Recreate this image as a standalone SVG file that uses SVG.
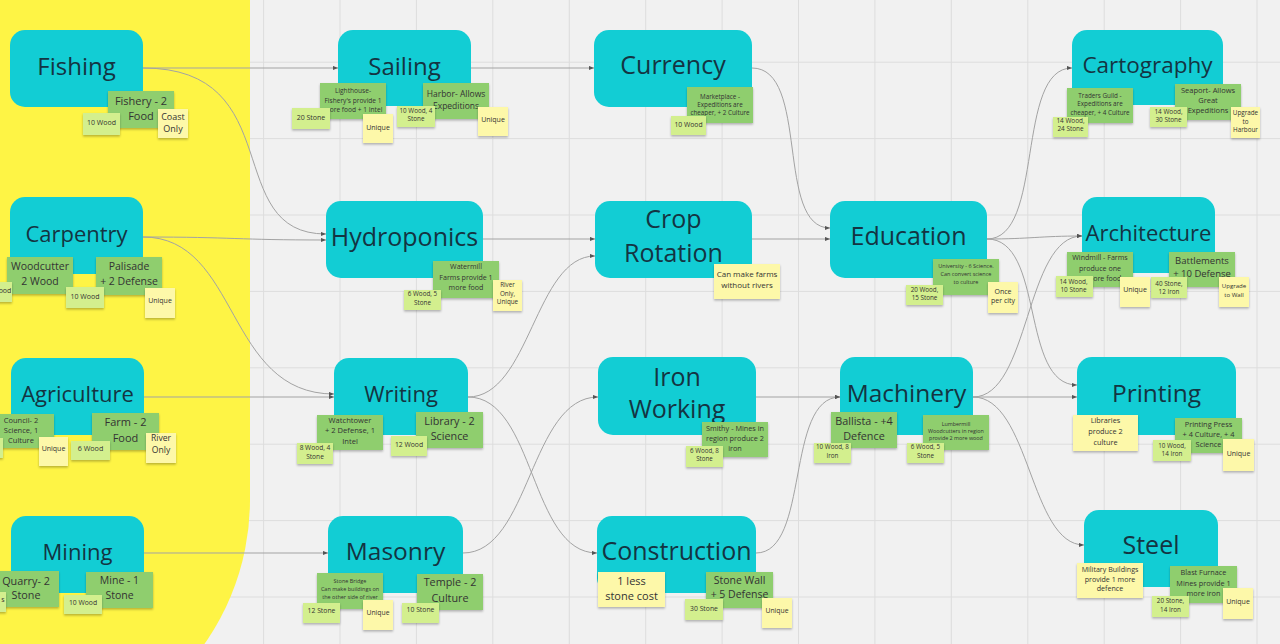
<svg xmlns="http://www.w3.org/2000/svg" width="1280" height="644" viewBox="0 0 1280 644">
<defs>
<style>
.grid line{stroke:#dddddd;stroke-width:1}
.n{fill:#12cdd4}
.nt{font-family:"Open Sans","Noto Sans",sans-serif;fill:#143442;text-anchor:middle;dominant-baseline:central;transform:translate(0px,-2.5px)}
.g{fill:#8fce6e;filter:url(#sh)}
.lg{fill:#d3ef8e;filter:url(#sh)}
.y{fill:#fdf8a9;filter:url(#sh)}
.t{font-family:"Open Sans","Noto Sans",sans-serif;fill:#333333;text-anchor:middle;dominant-baseline:central;transform:translate(0px,-1.5px)}
.c path{fill:none;stroke:#a3a3a3;stroke-width:1;marker-end:url(#ar)}
</style>
<filter id="sh" x="-20%" y="-20%" width="140%" height="160%"><feDropShadow dx="0" dy="1.5" stdDeviation="1" flood-color="#000000" flood-opacity="0.28"/></filter>
<marker id="ar" viewBox="0 0 6 6" refX="6" refY="3" markerWidth="5" markerHeight="5" orient="auto" markerUnits="userSpaceOnUse"><path d="M0,0.5 L6,3 L0,5.5 Z" fill="#555555"/></marker>
</defs>
<rect x="0" y="0" width="1280" height="644" fill="#f1f1f1"/>
<g class="grid">
<line x1="263.6" y1="0" x2="263.6" y2="644"/><line x1="340" y1="0" x2="340" y2="644"/><line x1="416.4" y1="0" x2="416.4" y2="644"/><line x1="492.8" y1="0" x2="492.8" y2="644"/><line x1="569.3" y1="0" x2="569.3" y2="644"/><line x1="645.7" y1="0" x2="645.7" y2="644"/><line x1="722.1" y1="0" x2="722.1" y2="644"/><line x1="798.5" y1="0" x2="798.5" y2="644"/><line x1="874.9" y1="0" x2="874.9" y2="644"/><line x1="951.3" y1="0" x2="951.3" y2="644"/><line x1="1027.8" y1="0" x2="1027.8" y2="644"/><line x1="1104.2" y1="0" x2="1104.2" y2="644"/><line x1="1180.6" y1="0" x2="1180.6" y2="644"/><line x1="1257" y1="0" x2="1257" y2="644"/>
<line x1="0" y1="62.2" x2="1280" y2="62.2"/><line x1="0" y1="138.6" x2="1280" y2="138.6"/><line x1="0" y1="215" x2="1280" y2="215"/><line x1="0" y1="291.4" x2="1280" y2="291.4"/><line x1="0" y1="367.8" x2="1280" y2="367.8"/><line x1="0" y1="444.2" x2="1280" y2="444.2"/><line x1="0" y1="520.6" x2="1280" y2="520.6"/><line x1="0" y1="597" x2="1280" y2="597"/>
</g>
<path d="M0,0 H250 V500 A250,250 0 0 1 0,750 Z" fill="#fef445"/>
<g id="connectors" class="c">
<path d="M143,68 H338"/>
<path d="M143,68 C290,68 220,234 326,234"/>
<path d="M143,237 C235,237 235,240 326,240"/>
<path d="M143,237 C240,237 225,394 334,394"/>
<path d="M144,397 H334"/>
<path d="M144,553 H328"/>
<path d="M471,68 H594"/>
<path d="M483,239 H595"/>
<path d="M468,397 C530,397 535,256 595,256"/>
<path d="M468,397 C535,397 530,553 597,553"/>
<path d="M463,553 C530,553 530,397 598,397"/>
<path d="M752,68 C810,68 775,228 830,228"/>
<path d="M752,239 H830"/>
<path d="M756,397 H840"/>
<path d="M756,553 C810,553 785,397 840,397"/>
<path d="M987,239 C1045,239 1015,68 1072,68"/>
<path d="M987,239 C1030,239 1040,236 1082,236"/>
<path d="M987,239 C1045,239 1020,385 1077,385"/>
<path d="M973,397 C1030,397 1025,236 1082,236"/>
<path d="M973,397 H1077"/>
<path d="M973,397 C1030,397 1030,545 1084,545"/>
</g>

<g id="fishing">
<rect class="n" x="10" y="30" width="133" height="77" rx="15"/>
<text class="nt" x="76.5" y="68" font-size="24">Fishing</text>
<rect class="g" x="108" y="91" width="66" height="37"/>
<text class="t" font-size="11"><tspan x="141" y="101.5">Fishery - 2</tspan><tspan x="141" y="116">Food</tspan></text>
<rect class="lg" x="83" y="113" width="37" height="22"/>
<text class="t" x="101.5" y="124" font-size="7">10 Wood</text>
<rect class="y" x="158" y="109" width="30" height="29"/>
<text class="t" font-size="9"><tspan x="173" y="117.5">Coast</tspan><tspan x="173" y="129.5">Only</tspan></text>
</g>

<g id="sailing">
<rect class="n" x="338" y="30" width="133" height="76" rx="15"/>
<text class="nt" x="404.5" y="68" font-size="24">Sailing</text>
<rect class="g" x="320" y="83" width="66" height="36"/>
<text class="t" font-size="6.6"><tspan x="353" y="91.5">Lighthouse-</tspan><tspan x="353" y="101">Fishery's provide 1</tspan><tspan x="353" y="110.5">more food + 1 Intel</tspan></text>
<rect class="g" x="423" y="83" width="66" height="36"/>
<text class="t" font-size="8.5"><tspan x="456" y="94">Harbor- Allows</tspan><tspan x="456" y="106">Expeditions</tspan></text>
<rect class="lg" x="292" y="108" width="38" height="21"/>
<text class="t" x="311" y="118.5" font-size="7">20 Stone</text>
<rect class="lg" x="397" y="106" width="38" height="21"/>
<text class="t" font-size="6.3"><tspan x="416" y="111.5">10 Wood, 4</tspan><tspan x="416" y="119.5">Stone</tspan></text>
<rect class="y" x="363" y="114" width="30" height="29"/>
<text class="t" x="378" y="128.5" font-size="7">Unique</text>
<rect class="y" x="478" y="107" width="30" height="29"/>
<text class="t" x="493" y="120.5" font-size="7">Unique</text>
</g>

<g id="currency">
<rect class="n" x="594" y="30" width="158" height="77" rx="15"/>
<text class="nt" x="673" y="66.5" font-size="25">Currency</text>
<rect class="g" x="687" y="87" width="66" height="36"/>
<text class="t" font-size="6.3"><tspan x="720" y="97">Marketplace -</tspan><tspan x="720" y="105">Expeditions are</tspan><tspan x="720" y="113">cheaper, + 2 Culture</tspan></text>
<rect class="lg" x="671" y="116" width="35" height="19"/>
<text class="t" x="688.5" y="125.5" font-size="6.8">10 Wood</text>
</g>

<g id="cartography">
<rect class="n" x="1072" y="30" width="151" height="75" rx="15"/>
<text class="nt" x="1147.5" y="66.5" font-size="22.5">Cartography</text>
<rect class="g" x="1067" y="88" width="66" height="35"/>
<text class="t" font-size="6.3"><tspan x="1100" y="96">Traders Guild -</tspan><tspan x="1100" y="104.5">Expeditions are</tspan><tspan x="1100" y="113">cheaper, + 4 Culture</tspan></text>
<rect class="g" x="1175" y="84" width="66" height="36"/>
<text class="t" font-size="7.5"><tspan x="1208" y="91">Seaport- Allows</tspan><tspan x="1208" y="101">Great</tspan><tspan x="1208" y="111">Expeditions</tspan></text>
<rect class="lg" x="1053" y="117" width="35" height="20"/>
<text class="t" font-size="6.4"><tspan x="1070.5" y="121.5">14 Wood,</tspan><tspan x="1070.5" y="129.5">24 Stone</tspan></text>
<rect class="lg" x="1150" y="107" width="37" height="20"/>
<text class="t" font-size="6.4"><tspan x="1168.5" y="112">14 Wood,</tspan><tspan x="1168.5" y="120.5">30 Stone</tspan></text>
<rect class="y" x="1231" y="107" width="29" height="31"/>
<text class="t" font-size="6.3"><tspan x="1245.5" y="113">Upgrade</tspan><tspan x="1245.5" y="122">to</tspan><tspan x="1245.5" y="130.5">Harbour</tspan></text>
</g>

<g id="carpentry">
<rect class="n" x="10" y="197" width="133" height="77" rx="15"/>
<text class="nt" x="76.5" y="235" font-size="22">Carpentry</text>
<rect class="g" x="7" y="257" width="66" height="37"/>
<text class="t" font-size="10.5"><tspan x="40" y="267">Woodcutter</tspan><tspan x="40" y="282">2 Wood</tspan></text>
<rect class="g" x="96" y="257" width="66" height="38"/>
<text class="t" font-size="10.5"><tspan x="129" y="267">Palisade</tspan><tspan x="129" y="282">+ 2 Defense</tspan></text>
<rect class="lg" x="-26" y="282" width="38" height="20"/>
<text class="t" x="5" y="291.5" font-size="7">ood</text>
<rect class="lg" x="66" y="287" width="38" height="21"/>
<text class="t" x="85" y="297.5" font-size="7">10 Wood</text>
<rect class="y" x="145" y="288" width="30" height="30"/>
<text class="t" x="160" y="302" font-size="7">Unique</text>
</g>

<g id="hydroponics">
<rect class="n" x="326" y="201" width="157" height="77" rx="15"/>
<text class="nt" x="404.5" y="238" font-size="25">Hydroponics</text>
<rect class="g" x="433" y="261" width="66" height="37"/>
<text class="t" font-size="7.1"><tspan x="466" y="267.5">Watermill</tspan><tspan x="466" y="278">Farms provide 1</tspan><tspan x="466" y="288.5">more food</tspan></text>
<rect class="lg" x="404" y="290" width="37" height="20"/>
<text class="t" font-size="6.3"><tspan x="422.5" y="294.5">6 Wood, 5</tspan><tspan x="422.5" y="303">Stone</tspan></text>
<rect class="y" x="493" y="280" width="29" height="31"/>
<text class="t" font-size="6.3"><tspan x="507.5" y="285.5">River</tspan><tspan x="507.5" y="294">Only,</tspan><tspan x="507.5" y="302.5">Unique</tspan></text>
</g>

<g id="crop-rotation">
<rect class="n" x="595" y="201" width="157" height="77" rx="15"/>
<text class="nt" font-size="25"><tspan x="673.5" y="220.5">Crop</tspan><tspan x="673.5" y="254.5">Rotation</tspan></text>
<rect class="y" x="714" y="264" width="66" height="35"/>
<text class="t" font-size="8"><tspan x="747" y="274">Can make farms</tspan><tspan x="747" y="285.5">without rivers</tspan></text>
</g>

<g id="education">
<rect class="n" x="830" y="201" width="157" height="77" rx="15"/>
<text class="nt" x="908.5" y="237.5" font-size="25">Education</text>
<rect class="g" x="933" y="259" width="66" height="36"/>
<text class="t" font-size="5.5"><tspan x="966" y="267">University - 6 Science.</tspan><tspan x="966" y="275.5">Can convert science</tspan><tspan x="966" y="283.5">to culture</tspan></text>
<rect class="lg" x="906" y="285" width="37" height="20"/>
<text class="t" font-size="6.3"><tspan x="924.5" y="290.5">20 Wood,</tspan><tspan x="924.5" y="298.5">15 Stone</tspan></text>
<rect class="y" x="988" y="282" width="30" height="31"/>
<text class="t" font-size="7"><tspan x="1003" y="292">Once</tspan><tspan x="1003" y="301">per city</tspan></text>
</g>

<g id="architecture">
<rect class="n" x="1082" y="197" width="133" height="76" rx="15"/>
<text class="nt" x="1148.5" y="234" font-size="22">Architecture</text>
<rect class="g" x="1067" y="252" width="66" height="35"/>
<text class="t" font-size="7.1"><tspan x="1100" y="258.5">Windmill - Farms</tspan><tspan x="1100" y="269">produce one</tspan><tspan x="1104" y="279">more food</tspan></text>
<rect class="g" x="1169" y="252" width="66" height="35"/>
<text class="t" font-size="9.5"><tspan x="1202" y="261.5">Battlements</tspan><tspan x="1202" y="274">+ 10 Defense</tspan></text>
<rect class="lg" x="1056" y="276" width="37" height="21"/>
<text class="t" font-size="6.4"><tspan x="1073.5" y="282">14 Wood,</tspan><tspan x="1073.5" y="290.5">10 Stone</tspan></text>
<rect class="lg" x="1151" y="277" width="36" height="21"/>
<text class="t" font-size="6.3"><tspan x="1169" y="284">40 Stone,</tspan><tspan x="1169" y="292.5">12 Iron</tspan></text>
<rect class="y" x="1120" y="277" width="30" height="30"/>
<text class="t" x="1135" y="291" font-size="7">Unique</text>
<rect class="y" x="1219" y="277" width="30" height="30"/>
<text class="t" font-size="6.1"><tspan x="1234" y="286.5">Upgrade</tspan><tspan x="1234" y="295">to Wall</tspan></text>
</g>

<g id="agriculture">
<rect class="n" x="11" y="358" width="133" height="77" rx="15"/>
<text class="nt" x="77.5" y="395" font-size="22">Agriculture</text>
<rect class="g" x="-12" y="414" width="66" height="34"/>
<text class="t" font-size="7.5"><tspan x="21" y="421">Council- 2</tspan><tspan x="21" y="431">Science, 1</tspan><tspan x="21" y="441.5">Culture</tspan></text>
<rect class="g" x="92" y="413" width="67" height="37"/>
<text class="t" font-size="11"><tspan x="125.5" y="422.5">Farm - 2</tspan><tspan x="125.5" y="438">Food</tspan></text>
<rect class="lg" x="-35" y="438" width="38" height="20"/>
<rect class="y" x="39" y="437" width="29" height="29"/>
<text class="t" x="53.5" y="450" font-size="7">Unique</text>
<rect class="lg" x="71" y="441" width="39" height="19"/>
<text class="t" x="90.5" y="449.5" font-size="7.2">6 Wood</text>
<rect class="y" x="146" y="433" width="30" height="30"/>
<text class="t" font-size="8.6"><tspan x="161" y="439.5">River</tspan><tspan x="161" y="451.5">Only</tspan></text>
</g>

<g id="writing">
<rect class="n" x="334" y="358" width="134" height="77" rx="15"/>
<text class="nt" x="401" y="395" font-size="22">Writing</text>
<rect class="g" x="317" y="415" width="66" height="35"/>
<text class="t" font-size="7.6"><tspan x="350" y="421.5">Watchtower</tspan><tspan x="350" y="431.5">+ 2 Defense, 1</tspan><tspan x="350" y="442">Intel</tspan></text>
<rect class="g" x="416" y="412" width="67" height="36"/>
<text class="t" font-size="10.8"><tspan x="449.5" y="421.5">Library - 2</tspan><tspan x="449.5" y="436">Science</tspan></text>
<rect class="lg" x="297" y="443" width="36" height="21"/>
<text class="t" font-size="6.6"><tspan x="315" y="448">8 Wood, 4</tspan><tspan x="315" y="457">Stone</tspan></text>
<rect class="lg" x="391" y="436" width="36" height="20"/>
<text class="t" x="409" y="445.5" font-size="6.8">12 Wood</text>
</g>

<g id="iron-working">
<rect class="n" x="598" y="357" width="158" height="78" rx="15"/>
<text class="nt" font-size="25"><tspan x="677" y="378.5">Iron</tspan><tspan x="677" y="410.5">Working</tspan></text>
<rect class="g" x="702" y="422" width="66" height="35"/>
<text class="t" font-size="7.3"><tspan x="735" y="429.5">Smithy - Mines in</tspan><tspan x="735" y="439.5">region produce 2</tspan><tspan x="735" y="449.5">iron</tspan></text>
<rect class="lg" x="686" y="446" width="37" height="21"/>
<text class="t" font-size="6.2"><tspan x="704.5" y="451">6 Wood, 8</tspan><tspan x="704.5" y="459.5">Stone</tspan></text>
</g>

<g id="machinery">
<rect class="n" x="840" y="357" width="133" height="78" rx="15"/>
<text class="nt" x="906.5" y="395" font-size="24.5">Machinery</text>
<rect class="g" x="831" y="412" width="66" height="36"/>
<text class="t" font-size="10.8"><tspan x="864" y="421">Ballista - +4</tspan><tspan x="864" y="436.5">Defence</tspan></text>
<rect class="g" x="923" y="415" width="66" height="35"/>
<text class="t" font-size="5.4"><tspan x="956" y="425">Lumbermill</tspan><tspan x="956" y="432">Woodcutters in region</tspan><tspan x="956" y="439.5">provide 2 more wood</tspan></text>
<rect class="lg" x="814" y="443" width="37" height="20"/>
<text class="t" font-size="6.3"><tspan x="832.5" y="447.5">10 Wood, 8</tspan><tspan x="832.5" y="456.5">Iron</tspan></text>
<rect class="lg" x="907" y="443" width="37" height="20"/>
<text class="t" font-size="6.3"><tspan x="925.5" y="447.5">6 Wood, 5</tspan><tspan x="925.5" y="456.5">Stone</tspan></text>
</g>

<g id="printing">
<rect class="n" x="1077" y="357" width="159" height="78" rx="15"/>
<text class="nt" x="1156.5" y="394.5" font-size="24.5">Printing</text>
<rect class="y" x="1073" y="415" width="65" height="36"/>
<text class="t" font-size="7.3"><tspan x="1105.5" y="421.5">Libraries</tspan><tspan x="1105.5" y="432.5">produce 2</tspan><tspan x="1105.5" y="443.5">culture</tspan></text>
<rect class="g" x="1175" y="418" width="67" height="35"/>
<text class="t" font-size="7.4"><tspan x="1208.5" y="425">Printing Press</tspan><tspan x="1208.5" y="435">+ 4 Culture, + 4</tspan><tspan x="1208.5" y="445">Science</tspan></text>
<rect class="lg" x="1153" y="440" width="38" height="21"/>
<text class="t" font-size="6.3"><tspan x="1172" y="446">10 Wood,</tspan><tspan x="1172" y="454">14 Iron</tspan></text>
<rect class="y" x="1223" y="439" width="31" height="32"/>
<text class="t" x="1238.5" y="454.5" font-size="7">Unique</text>
</g>

<g id="mining">
<rect class="n" x="11" y="516" width="133" height="77" rx="15"/>
<text class="nt" x="77.5" y="553.5" font-size="22">Mining</text>
<rect class="g" x="-7" y="571" width="66" height="36"/>
<text class="t" font-size="10.8"><tspan x="26" y="581">Quarry- 2</tspan><tspan x="26" y="595">Stone</tspan></text>
<rect class="g" x="86" y="572" width="67" height="36"/>
<text class="t" font-size="10.5"><tspan x="119.5" y="581">Mine - 1</tspan><tspan x="119.5" y="596">Stone</tspan></text>
<rect class="lg" x="-32" y="592" width="38" height="20"/>
<text class="t" x="3" y="601" font-size="7">s</text>
<rect class="lg" x="64" y="595" width="38" height="19"/>
<text class="t" x="83" y="603.5" font-size="6.8">10 Wood</text>
</g>

<g id="masonry">
<rect class="n" x="328" y="516" width="135" height="77" rx="15"/>
<text class="nt" x="395.5" y="553" font-size="24.5">Masonry</text>
<rect class="g" x="317" y="573" width="66" height="36"/>
<text class="t" font-size="5.5"><tspan x="350" y="582.5">Stone Bridge</tspan><tspan x="350" y="590.5">Can make buildings on</tspan><tspan x="350" y="598">the other side of river</tspan></text>
<rect class="g" x="417" y="574" width="66" height="36"/>
<text class="t" font-size="10.8"><tspan x="450" y="582.5">Temple - 2</tspan><tspan x="450" y="598">Culture</tspan></text>
<rect class="lg" x="303" y="603" width="37" height="20"/>
<text class="t" x="321.5" y="611.5" font-size="6.8">12 Stone</text>
<rect class="y" x="363" y="600" width="30" height="30"/>
<text class="t" x="378" y="614" font-size="6.8">Unique</text>
<rect class="lg" x="402" y="603" width="37" height="20"/>
<text class="t" x="420.5" y="611" font-size="6.8">10 Stone</text>
</g>

<g id="construction">
<rect class="n" x="597" y="516" width="159" height="77" rx="15"/>
<text class="nt" x="676.5" y="552" font-size="25">Construction</text>
<rect class="y" x="598" y="572" width="67" height="35"/>
<text class="t" font-size="11"><tspan x="631.5" y="581">1 less</tspan><tspan x="631.5" y="596">stone cost</tspan></text>
<rect class="g" x="706" y="572" width="67" height="36"/>
<text class="t" font-size="10.5"><tspan x="739.5" y="581">Stone Wall</tspan><tspan x="739.5" y="595.5">+ 5 Defense</tspan></text>
<rect class="lg" x="685" y="599" width="38" height="21"/>
<text class="t" x="704" y="609.5" font-size="6.8">30 Stone</text>
<rect class="y" x="762" y="598" width="30" height="30"/>
<text class="t" x="777" y="612" font-size="6.8">Unique</text>
</g>

<g id="steel">
<rect class="n" x="1084" y="510" width="134" height="77" rx="15"/>
<text class="nt" x="1151" y="546" font-size="25">Steel</text>
<rect class="y" x="1077" y="563" width="66" height="35"/>
<text class="t" font-size="7.1"><tspan x="1110" y="570.5">Military Buildings</tspan><tspan x="1110" y="580.5">provide 1 more</tspan><tspan x="1110" y="589.5">defence</tspan></text>
<rect class="g" x="1170" y="566" width="67" height="37"/>
<text class="t" font-size="7.3"><tspan x="1203.5" y="573.5">Blast Furnace</tspan><tspan x="1203.5" y="584">Mines provide 1</tspan><tspan x="1203.5" y="594">more iron</tspan></text>
<rect class="lg" x="1152" y="596" width="37" height="21"/>
<text class="t" font-size="6.3"><tspan x="1170.5" y="601">20 Stone,</tspan><tspan x="1170.5" y="610">14 Iron</tspan></text>
<rect class="y" x="1223" y="588" width="30" height="31"/>
<text class="t" x="1238" y="603" font-size="7">Unique</text>
</g>
</svg>
